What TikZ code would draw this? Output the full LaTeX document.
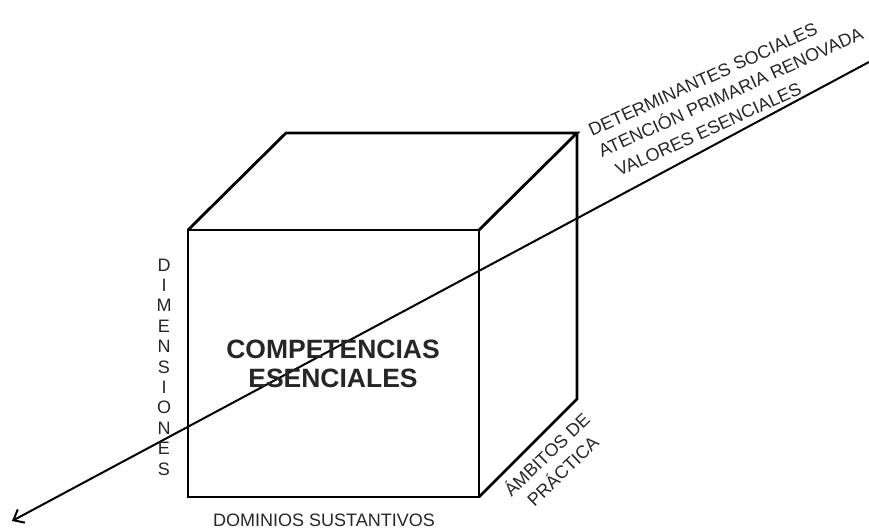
\documentclass[tikz,border=0pt]{standalone}
\usepackage{fontspec}
\setmainfont{Liberation Sans}
\usetikzlibrary{arrows.meta}
\begin{document}
\begin{tikzpicture}[x=1pt,y=-1pt,
  edge/.style={line width=2.8pt, line join=miter},
  lbl/.style={font=\fontsize{18}{21}\selectfont, inner sep=0pt, text=black!85},
  big/.style={font=\fontsize{26.5}{29}\selectfont\bfseries, inner sep=0pt, align=center, text=black!85}]
\useasboundingbox (0,0) rectangle (869,529);
% cube
\coordinate (ftl) at (188,230);
\coordinate (ftr) at (479,230);
\coordinate (fbr) at (479,497);
\coordinate (fbl) at (188,497);
\coordinate (btl) at (286,133);
\coordinate (btr) at (577,133);
\coordinate (bbr) at (577,399);
\draw[edge] (ftl) -- (ftr) -- (fbr) -- (fbl) -- cycle;
\draw[edge] (ftl) -- (btl) -- (btr) -- (ftr);
\draw[edge] (btr) -- (bbr) -- (fbr);
% axis line
\coordinate (lineEnd) at (869,62);
\coordinate (tip) at (12,521);
\draw[line width=2pt, -{Straight Barb[length=9pt,width=15pt,line width=2pt]}] (lineEnd) -- (tip);
% labels
\node[big] (comp) at (333,364) {COMPETENCIAS\\ESENCIALES};
\node[lbl, anchor=base] (dom) at (324,526) {DOMINIOS SUSTANTIVOS};
\node[lbl, align=center, font=\fontsize{18}{20.4}\selectfont] (dim) at (164,367) {D\\I\\M\\E\\N\\S\\I\\O\\N\\E\\S};
\node[lbl, align=center, rotate=44, font=\fontsize{18}{23}\selectfont] (amb) at (554,462) {ÁMBITOS DE\\PRÁCTICA};
\node[lbl, anchor=base west, rotate=24.5] (det) at (592,137) {DETERMINANTES SOCIALES};
\node[lbl, anchor=base west, rotate=24.5] (aps) at (602,158) {ATENCIÓN PRIMARIA RENOVADA};
\node[lbl, anchor=base west, rotate=24.5] (val) at (619,177) {VALORES ESENCIALES};
\end{tikzpicture}
\end{document}
